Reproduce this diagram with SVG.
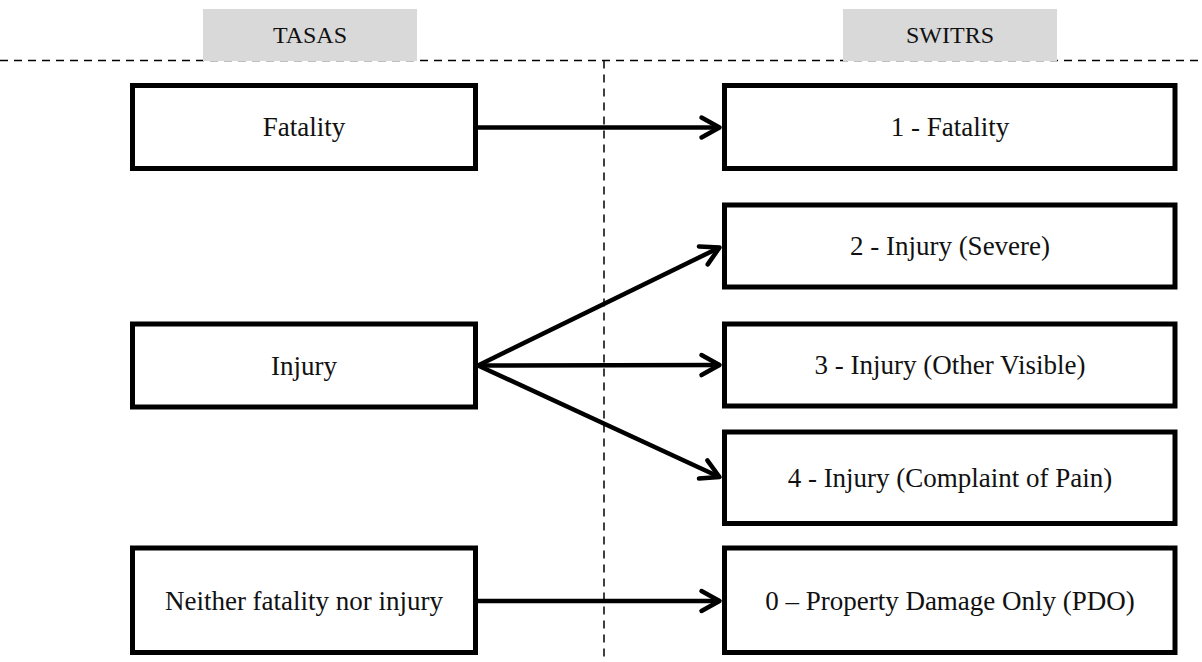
<svg xmlns="http://www.w3.org/2000/svg" width="1202" height="662" viewBox="0 0 1202 662">
<style>
.bg{fill:#ffffff}
.box{fill:#ffffff;stroke:#000000;stroke-width:5}
.hdr{fill:#d9d9d9}
.t{font-family:"Liberation Serif","Times New Roman",serif;font-size:27px;fill:#111111;text-anchor:middle;dominant-baseline:central}
.th{font-family:"Liberation Serif","Times New Roman",serif;font-size:24px;fill:#111111;text-anchor:middle;dominant-baseline:central}
.dash{fill:none;stroke:#000000;stroke-width:1.5;stroke-dasharray:8 6}
.conn{fill:none;stroke:#000000;stroke-width:4.5}
</style>
<defs>
<marker id="arrow" markerUnits="userSpaceOnUse" viewBox="-24 -14 28 28" refX="0" refY="0" markerWidth="28" markerHeight="28" orient="auto">
<path d="M -18 -10 L 0 0 L -18 10" fill="none" stroke="#000000" stroke-width="4.5" stroke-linecap="round" stroke-linejoin="round"/>
</marker>
</defs>
<rect class="bg" x="0" y="0" width="1202" height="662"/>
<g id="guides">
<line class="dash" x1="0" y1="60.5" x2="1202" y2="60.5"/>
<line class="dash" x1="604" y1="60.5" x2="604" y2="662"/>
</g>
<g id="header-tasas">
<rect class="hdr" x="203" y="9" width="214" height="52"/>
<text class="th" x="310" y="35">TASAS</text>
</g>
<g id="header-switrs">
<rect class="hdr" x="843" y="9" width="214" height="52"/>
<text class="th" x="950" y="35">SWITRS</text>
</g>
<g id="connectors">
<line class="conn" x1="478" y1="127.5" x2="719.5" y2="127.5" marker-end="url(#arrow)"/>
<line class="conn" x1="478" y1="365.5" x2="719.5" y2="247.5" marker-end="url(#arrow)"/>
<line class="conn" x1="478" y1="365.5" x2="719.5" y2="365" marker-end="url(#arrow)"/>
<line class="conn" x1="478" y1="365.5" x2="719.5" y2="477" marker-end="url(#arrow)"/>
<line class="conn" x1="478" y1="601" x2="719.5" y2="601" marker-end="url(#arrow)"/>
</g>
<g id="tasas-fatality">
<rect class="box" x="132.5" y="85.5" width="343" height="83"/>
<text class="t" x="304" y="127">Fatality</text>
</g>
<g id="tasas-injury">
<rect class="box" x="132.5" y="324" width="343" height="83"/>
<text class="t" x="304" y="365.5">Injury</text>
</g>
<g id="tasas-neither">
<rect class="box" x="132.5" y="548" width="343" height="104.5"/>
<text class="t" x="304" y="601">Neither fatality nor injury</text>
</g>
<g id="switrs-1">
<rect class="box" x="724.5" y="85.5" width="450.5" height="83"/>
<text class="t" x="950" y="127">1 - Fatality</text>
</g>
<g id="switrs-2">
<rect class="box" x="724.5" y="205" width="450.5" height="82"/>
<text class="t" x="950" y="246">2 - Injury (Severe)</text>
</g>
<g id="switrs-3">
<rect class="box" x="724.5" y="324" width="450.5" height="82"/>
<text class="t" x="950" y="365">3 - Injury (Other Visible)</text>
</g>
<g id="switrs-4">
<rect class="box" x="724.5" y="432" width="450.5" height="91.5"/>
<text class="t" x="950" y="478">4 - Injury (Complaint of Pain)</text>
</g>
<g id="switrs-0">
<rect class="box" x="724.5" y="548" width="450.5" height="104.5"/>
<text class="t" x="950" y="601">0 – Property Damage Only (PDO)</text>
</g>
</svg>
